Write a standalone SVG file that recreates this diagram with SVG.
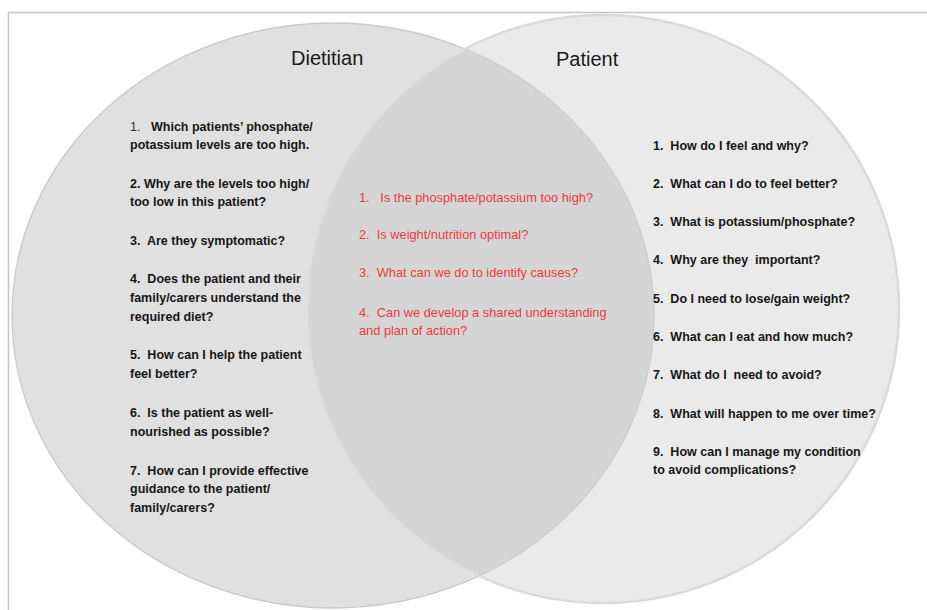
<svg xmlns="http://www.w3.org/2000/svg" width="927" height="610" viewBox="0 0 927 610" xml:space="preserve">
  <style>
    text { font-family: "Liberation Sans", Arial, sans-serif; white-space: pre; }
    .title { font-size: 20px; fill: #1a1a1a; }
    .item { font-size: 12.5px; font-weight: bold; fill: #161616; }
    .num { font-weight: normal; fill: #333333; }
    .shared { font-size: 12.8px; fill: #ee3a3a; }
  </style>
  <defs>
    <clipPath id="leftClip">
      <ellipse cx="333" cy="315.5" rx="321" ry="292.5"/>
    </clipPath>
    <clipPath id="rightClip">
      <ellipse cx="603" cy="309" rx="296" ry="294"/>
    </clipPath>
  </defs>

  <rect width="927" height="610" fill="#ffffff"/>
  <!-- page frame -->
  <path d="M8.5 610 V12.5 H927" fill="none" stroke="#c4c4c4" stroke-width="1.5"/>

  <!-- Dietitian set -->
  <g id="dietitian">
    <ellipse cx="333" cy="315.5" rx="321" ry="292.5" fill="#e0e0e0" stroke="#c9c9c9" stroke-width="1.3"/>
  </g>

  <!-- Patient set -->
  <g id="patient">
    <ellipse cx="603" cy="309" rx="296" ry="294" fill="#eaeaea" stroke="#dadada" stroke-width="2.5"/>
  </g>

  <!-- Shared region -->
  <g id="shared">
    <ellipse cx="603" cy="309" rx="296" ry="294" fill="#d5d5d5" stroke="#e0e0e0" stroke-width="2" clip-path="url(#leftClip)"/>
    <ellipse cx="333" cy="315.5" rx="321" ry="292.5" fill="none" stroke="#cbcbcb" stroke-width="1.2" clip-path="url(#rightClip)"/>
  </g>

  <!-- Dietitian questions -->
  <g id="dietitian-text">
    <text class="title" x="291" y="65">Dietitian</text>
    <text class="item" x="130" y="131"><tspan class="num">1.</tspan><tspan x="151">Which patients’ phosphate/</tspan></text>
    <text class="item" x="130" y="149">potassium levels are too high.</text>
    <text class="item" x="130" y="188">2. Why are the levels too high/</text>
    <text class="item" x="130" y="206">too low in this patient?</text>
    <text class="item" x="130" y="245">3.  Are they symptomatic?</text>
    <text class="item" x="130" y="283">4.  Does the patient and their</text>
    <text class="item" x="130" y="302">family/carers understand the</text>
    <text class="item" x="130" y="321">required diet?</text>
    <text class="item" x="130" y="359">5.  How can I help the patient</text>
    <text class="item" x="130" y="378">feel better?</text>
    <text class="item" x="130" y="417">6.  Is the patient as well-</text>
    <text class="item" x="130" y="436">nourished as possible?</text>
    <text class="item" x="130" y="475">7.  How can I provide effective</text>
    <text class="item" x="130" y="493">guidance to the patient/</text>
    <text class="item" x="130" y="512">family/carers?</text>
  </g>

  <!-- Shared questions -->
  <g id="shared-text">
    <text class="shared" x="359" y="202">1.   Is the phosphate/potassium too high?</text>
    <text class="shared" x="359" y="239">2.  Is weight/nutrition optimal?</text>
    <text class="shared" x="359" y="277">3.  What can we do to identify causes?</text>
    <text class="shared" x="359" y="317">4.  Can we develop a shared understanding</text>
    <text class="shared" x="359" y="335">and plan of action?</text>
  </g>

  <!-- Patient questions -->
  <g id="patient-text">
    <text class="title" x="556" y="66">Patient</text>
    <text class="item" x="653" y="150">1.  How do I feel and why?</text>
    <text class="item" x="653" y="188">2.  What can I do to feel better?</text>
    <text class="item" x="653" y="226">3.  What is potassium/phosphate?</text>
    <text class="item" x="653" y="264">4.  Why are they  important?</text>
    <text class="item" x="653" y="303">5.  Do I need to lose/gain weight?</text>
    <text class="item" x="653" y="341">6.  What can I eat and how much?</text>
    <text class="item" x="653" y="379">7.  What do I  need to avoid?</text>
    <text class="item" x="653" y="418">8.  What will happen to me over time?</text>
    <text class="item" x="653" y="456">9.  How can I manage my condition</text>
    <text class="item" x="653" y="474">to avoid complications?</text>
  </g>
</svg>
